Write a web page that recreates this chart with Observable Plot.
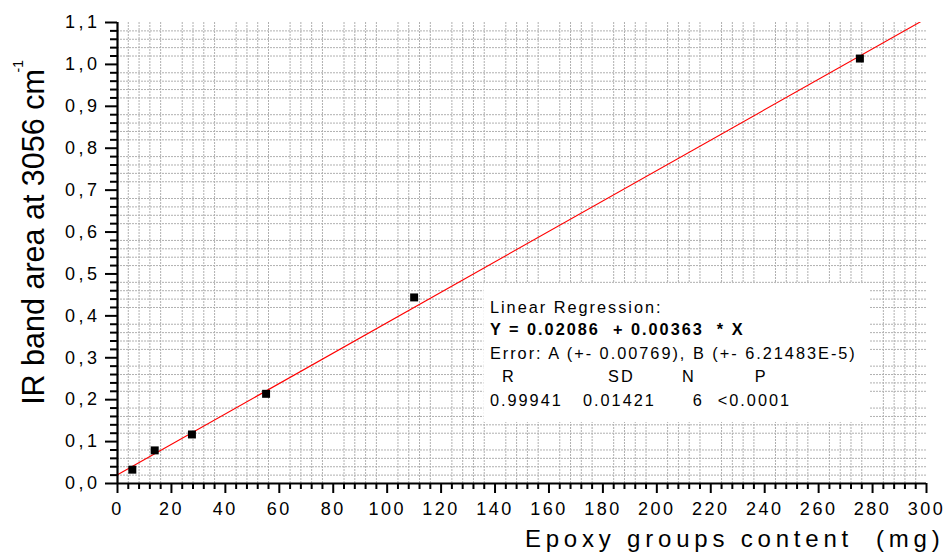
<!DOCTYPE html>
<html>
<head>
<meta charset="utf-8">
<script src="https://cdn.jsdelivr.net/npm/d3@7"></script>
<script src="https://cdn.jsdelivr.net/npm/@observablehq/plot@0.6"></script>
<style>
  html, body { margin: 0; padding: 0; background: #fff; }
  svg text { white-space: pre; }
  g[aria-label="x-axis tick label"] text { letter-spacing: 2.5px; }
  g[aria-label="y-axis tick label"] text { letter-spacing: 3.5px; }
  g[aria-description="regression-text"] text { letter-spacing: 2px; }
  g[aria-description="x-label"] text { letter-spacing: 4.8px; }
</style>
</head>
<body>
<div id="chart"></div>
<script>
// Data
const epoxy = [5.5, 13.8, 27.6, 55.1, 110, 275.3];          // Epoxy groups content (mg)
const area  = [0.033, 0.079, 0.117, 0.214, 0.444, 1.014];   // IR band area at 3056 cm-1

// Regression coefficients as printed
const intercept = 0.02086;
const slope = 0.00363;
const fitX = [0, 300];

// Ticks
const xTicks = [0, 20, 40, 60, 80, 100, 120, 140, 160, 180, 200, 220, 240, 260, 280, 300];
const yTicks = [0, 0.1, 0.2, 0.3, 0.4, 0.5, 0.6, 0.7, 0.8, 0.9, 1.0, 1.1];
const yTickLabels = ["0,0","0,1","0,2","0,3","0,4","0,5","0,6","0,7","0,8","0,9","1,0","1,1"];
const xMinor = d3.range(0, 301, 4).filter(d => d % 20 !== 0);
const yMinor = d3.range(0, 56).filter(i => i % 5 !== 0).map(i => i / 50);

// Annotation text
const regTitle = "Linear Regression:";
const regEq = "Y = 0.02086  + 0.00363  * X";
const regErr = "Error: A (+- 0.00769), B (+- 6.21483E-5)";
const statHeads = ["R", "SD", "N", "P"];
const statVals = ["0.99941", "0.01421", "6", "<0.0001"];
const headX = [142.6, 181.9, 209.3, 236.3];
const valX = [138.1, 172.6, 213.3, 222.6];

const xLabel = "Epoxy groups content  (mg)";
const yLabel = "IR band area at 3056 cm";
const ySup = "-1";

const points = epoxy.map((x, i) => ({x, y: area[i]}));
const fit = fitX.map(x => ({x, y: intercept + slope * x}));

const chart = Plot.plot({
  width: 945,
  height: 553,
  marginLeft: 117,
  marginRight: 19,
  marginTop: 22,
  marginBottom: 70,
  style: {fontFamily: "'Liberation Sans', Arial, sans-serif", background: "#fff", color: "#000"},
  x: {domain: [0, 300], axis: null},
  y: {domain: [0, 1.1], axis: null},
  marks: [
    // minor grid (dashed)
    Plot.ruleX(xMinor, {stroke: "#b0b0b0", strokeWidth: 1, strokeDasharray: "2,1"}),
    Plot.ruleY(yMinor, {stroke: "#b0b0b0", strokeWidth: 1, strokeDasharray: "2,1"}),
    // annotation box
    Plot.rect([0], {x1: 135.9, x2: 278.9, y1: 0.1456, y2: 0.477, fill: "#fff"}),
    // regression line
    Plot.line(fit, {x: "x", y: "y", stroke: "#ff0000", strokeWidth: 1.1, clip: true}),
    // data points
    Plot.dot(points, {x: "x", y: "y", symbol: "square", r: 4.5, fill: "#000", stroke: null}),
    // axes
    Plot.axisX({ticks: xMinor, tickSize: 6, tickFormat: () => "", strokeWidth: 2, label: null}),
    Plot.axisX({ticks: xTicks, tickSize: 10, tickPadding: 9, fontSize: 18, strokeWidth: 2,
                tickFormat: d => String(d), label: null}),
    Plot.axisY({ticks: yMinor, tickSize: 7, tickFormat: () => "", strokeWidth: 2, label: null}),
    Plot.axisY({ticks: yTicks, tickSize: 12, tickPadding: 5, fontSize: 18, strokeWidth: 2,
                tickFormat: d => yTickLabels[yTicks.indexOf(d)], label: null}),
    Plot.ruleY([0], {stroke: "#000", strokeWidth: 2.2}),
    Plot.ruleX([0], {stroke: "#000", strokeWidth: 2.2}),
    // regression text
    Plot.text([regTitle], {x: 138.1, y: 0.408, text: d => d, textAnchor: "start", lineAnchor: "bottom",
                           fontSize: 16.3, fill: "#000", ariaDescription: "regression-text"}),
    Plot.text([regEq], {x: 138.1, y: 0.3555, text: d => d, textAnchor: "start", lineAnchor: "bottom",
                        fontSize: 16.3, fontWeight: "bold", fill: "#000", ariaDescription: "regression-text"}),
    Plot.text([regErr], {x: 138.1, y: 0.298, text: d => d, textAnchor: "start", lineAnchor: "bottom",
                         fontSize: 16.3, fill: "#000", ariaDescription: "regression-text"}),
    Plot.text(statHeads, {x: (d, i) => headX[i], y: 0.241, text: d => d, textAnchor: "start", lineAnchor: "bottom",
                          fontSize: 16.3, fill: "#000", ariaDescription: "regression-text"}),
    Plot.text(statVals, {x: (d, i) => valX[i], y: 0.184, text: d => d, textAnchor: "start", lineAnchor: "bottom",
                         fontSize: 16.3, fill: "#000", ariaDescription: "regression-text"}),
    // axis titles
    Plot.text([xLabel], {frameAnchor: "bottom-right", dx: 18, dy: 63, text: d => d, textAnchor: "end",
                         lineAnchor: "bottom", fontSize: 24, fill: "#000", ariaDescription: "x-label"}),
    Plot.text([yLabel], {frameAnchor: "left", dx: -74, dy: -16, rotate: -90, text: d => d, textAnchor: "middle",
                         lineAnchor: "bottom", fontSize: 30.5, fill: "#000", ariaDescription: "y-label"}),
    Plot.text([ySup], {frameAnchor: "top-left", dx: -95, dy: 50, rotate: -90, text: d => d, textAnchor: "start",
                       lineAnchor: "bottom", fontSize: 14, fill: "#000", ariaDescription: "y-sup"})
  ]
});
document.getElementById("chart").appendChild(chart);
</script>
</body>
</html>
